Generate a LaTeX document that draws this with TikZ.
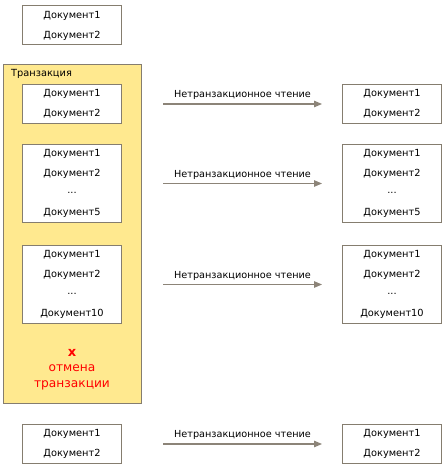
\documentclass[tikz,border=0pt]{standalone}
\usepackage{fontspec}
\setmainfont{DejaVu Sans}
\usetikzlibrary{arrows.meta}
\definecolor{bordc}{HTML}{857D6F}
\definecolor{trfill}{HTML}{FFE98F}
\definecolor{arrc}{HTML}{8C8478}
\tikzset{
  docbox/.style={draw=bordc, line width=1pt, fill=white, minimum width=99pt, inner sep=0pt, anchor=north west},
  two/.style={docbox, minimum height=39pt},
  four/.style={docbox, minimum height=78pt},
  doc/.style={font=\fontsize{9.8}{11}\selectfont, inner sep=0pt, anchor=center},
  arr/.style={draw=arrc, line width=1.2pt, -{Triangle[length=8pt,width=6.5pt]}, shorten <=41pt, shorten >=20pt},
  lbl/.style={font=\fontsize{9.7}{11}\selectfont, inner sep=0pt, midway, above=3.5pt, xshift=10.5pt},
  redt/.style={text=red, font=\fontsize{12.2}{14}\selectfont, inner sep=0pt}
}
\begin{document}
\begin{tikzpicture}[x=1pt,y=-1pt]
\useasboundingbox (0,0) rectangle (444,468);
% top box
\node[two] (t0) at (22,5.5) {};
\node[doc] at ([yshift=-10]t0.north) {Документ1};
\node[doc] at ([yshift=10]t0.south) {Документ2};
% transaction
\node[draw=bordc, fill=trfill, line width=1pt, minimum width=138pt, minimum height=339pt, anchor=north west, inner sep=0pt] (tr) at (3,64) {};
\node[font=\fontsize{9.8}{11}\selectfont, anchor=west, inner sep=0pt] (trl) at (11,74) {Транзакция};
% left boxes
\node[two] (l1) at (22,84) {};
\node[doc] at ([yshift=-10]l1.north) {Документ1};
\node[doc] at ([yshift=10]l1.south) {Документ2};
\node[four] (l2) at (22,144) {};
\node[doc] at ([yshift=-10]l2.north) {Документ1};
\node[doc] at ([yshift=-29.5]l2.north) {Документ2};
\node[doc] at ([yshift=-49]l2.north) {...};
\node[doc] at ([yshift=10]l2.south) {Документ5};
\node[four] (l3) at (22,245) {};
\node[doc] at ([yshift=-10]l3.north) {Документ1};
\node[doc] at ([yshift=-29.5]l3.north) {Документ2};
\node[doc] at ([yshift=-49]l3.north) {...};
\node[doc] at ([yshift=10]l3.south) {Документ10};
% cancel
\node[redt, font=\fontsize{13}{14}\bfseries] (cx) at (72,352.5) {x};
\node[redt] (c1) at (72,368.5) {отмена};
\node[redt] (c2) at (72,385.5) {транзакции};
% bottom left
\node[two] (l4) at (22,424) {};
\node[doc] at ([yshift=-10]l4.north) {Документ1};
\node[doc] at ([yshift=10]l4.south) {Документ2};
% right boxes
\node[two] (r1) at (342,84) {};
\node[doc] at ([yshift=-10]r1.north) {Документ1};
\node[doc] at ([yshift=10]r1.south) {Документ2};
\node[four] (r2) at (342,144) {};
\node[doc] at ([yshift=-10]r2.north) {Документ1};
\node[doc] at ([yshift=-29.5]r2.north) {Документ2};
\node[doc] at ([yshift=-49]r2.north) {...};
\node[doc] at ([yshift=10]r2.south) {Документ5};
\node[four] (r3) at (342,245) {};
\node[doc] at ([yshift=-10]r3.north) {Документ1};
\node[doc] at ([yshift=-29.5]r3.north) {Документ2};
\node[doc] at ([yshift=-49]r3.north) {...};
\node[doc] at ([yshift=10]r3.south) {Документ10};
\node[two] (r4) at (342,424) {};
\node[doc] at ([yshift=-10]r4.north) {Документ1};
\node[doc] at ([yshift=10]r4.south) {Документ2};
% arrows
\draw[arr] (l1.east) -- (r1.west) node[lbl] {Нетранзакционное чтение};
\draw[arr] (l2.east) -- (r2.west) node[lbl] {Нетранзакционное чтение};
\draw[arr] (l3.east) -- (r3.west) node[lbl] {Нетранзакционное чтение};
\draw[arr] (l4.east) -- (r4.west) node[lbl] {Нетранзакционное чтение};
\end{tikzpicture}
\end{document}
